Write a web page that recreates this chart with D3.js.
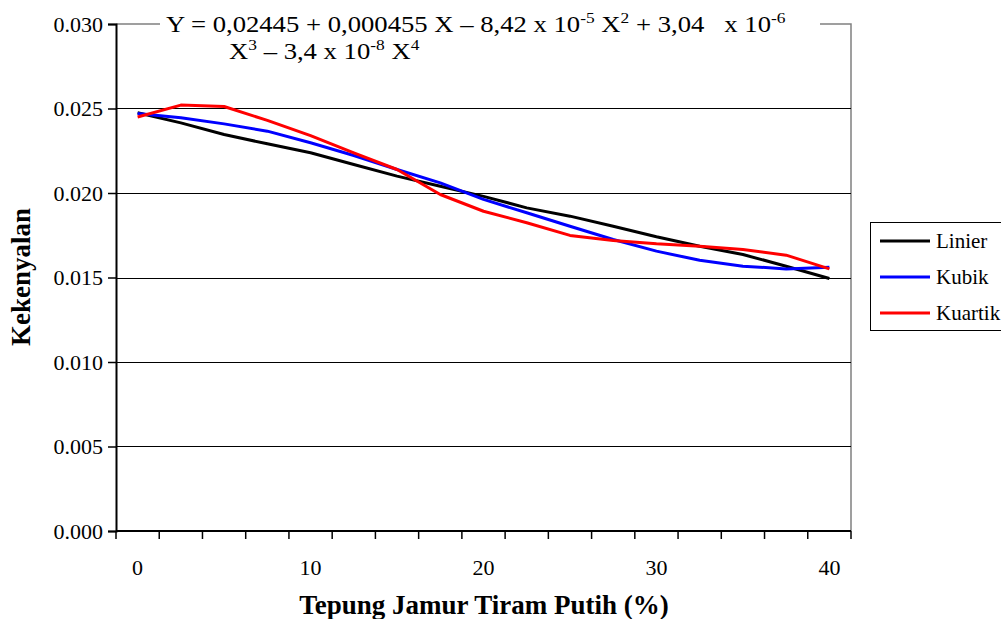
<!DOCTYPE html>
<html>
<head>
<meta charset="utf-8">
<script src="https://cdn.jsdelivr.net/npm/d3@7"></script>
<style>
  body { margin: 0; background: #fff; }
  svg { font-family: "Liberation Serif", "Times New Roman", serif; }
</style>
</head>
<body>
<svg id="chart" width="1001" height="619"></svg>
<script>
// categories on the x axis (% tepung jamur tiram putih)
const categories = [0, 2.5, 5, 7.5, 10, 12.5, 15, 17.5, 20, 22.5, 25, 27.5, 30, 32.5, 35, 37.5, 40];
const xTickLabels = [0, 10, 20, 30, 40];
const yTicks = [0, 0.005, 0.010, 0.015, 0.020, 0.025, 0.030];

// series values
const linier = [0.02475, 0.02415, 0.02346, 0.02291, 0.02238, 0.02169, 0.02100, 0.02040, 0.01980,
  0.01912, 0.01863, 0.01803, 0.01741, 0.01685, 0.01636, 0.01567, 0.01494];
const kubik = [0.02470, 0.02445, 0.02409, 0.02366, 0.02297, 0.02222, 0.02139, 0.02060, 0.01962,
  0.01883, 0.01803, 0.01725, 0.01656, 0.01602, 0.01567, 0.01551, 0.01561];
const kuartik = [0.02450, 0.02520, 0.02512, 0.02430, 0.02340, 0.02238, 0.02139, 0.01991, 0.01892,
  0.01824, 0.01749, 0.01719, 0.01699, 0.01685, 0.01666, 0.01632, 0.01551];

const seriesNames = ["Linier", "Kubik", "Kuartik"];
const seriesColors = ["#000000", "#0000ff", "#ff0000"];

const plot = { left: 116, right: 851, top: 24, bottom: 531 };
const fontSize = 22;

const svg = d3.select("#chart");

const xBand = d3.scaleBand()
  .domain(categories)
  .range([plot.left, plot.right]);

const x = d3.scalePoint()
  .domain(categories)
  .range([plot.left, plot.right])
  .padding(0.5);

const y = d3.scaleLinear()
  .domain([0, 0.030])
  .range([plot.bottom, plot.top]);

// plot border (top and right in gray)
svg.append("path")
  .attr("fill", "none")
  .attr("stroke", "#808080")
  .attr("stroke-width", 1.5)
  .attr("d", `M${plot.left},${y(0.030)}H${plot.right}V${plot.bottom}`);

// gridlines
svg.append("g")
  .selectAll("line")
  .data(yTicks.filter(d => d > 0 && d < 0.030))
  .join("line")
  .attr("x1", plot.left)
  .attr("x2", plot.right)
  .attr("y1", d => Math.round(y(d)) + 0.5)
  .attr("y2", d => Math.round(y(d)) + 0.5)
  .attr("stroke", "#000")
  .attr("stroke-width", 1.2);

// y axis
const yAxis = svg.append("g")
  .attr("transform", `translate(${plot.left},0)`)
  .call(d3.axisLeft(y).tickValues(yTicks).tickFormat(d3.format(".3f")).tickSize(8).tickPadding(5));
yAxis.attr("font-family", "Liberation Serif").attr("font-size", fontSize);
yAxis.select(".domain").attr("stroke-width", 2);
yAxis.selectAll(".tick line").attr("stroke-width", 1.5);
yAxis.selectAll("text").attr("fill", "#000");

// x axis: ticks between categories, labels every 10 %
const boundaries = categories.map(c => xBand(c)).concat([plot.right]);
const xAxis = svg.append("g");
xAxis.append("line")
  .attr("x1", plot.left)
  .attr("x2", plot.right)
  .attr("y1", plot.bottom)
  .attr("y2", plot.bottom)
  .attr("stroke", "#000")
  .attr("stroke-width", 2);
xAxis.selectAll("line.tick")
  .data(boundaries)
  .join("line")
  .attr("class", "tick")
  .attr("x1", d => d)
  .attr("x2", d => d)
  .attr("y1", plot.bottom)
  .attr("y2", plot.bottom + 8)
  .attr("stroke", "#000")
  .attr("stroke-width", 1.5);
xAxis.selectAll("text")
  .data(xTickLabels)
  .join("text")
  .attr("x", d => x(d))
  .attr("y", 575)
  .attr("text-anchor", "middle")
  .attr("font-size", fontSize)
  .text(d => d);

// lines
const line = d3.line()
  .x((d, i) => x(categories[i]))
  .y(d => y(d));

const allSeries = [linier, kubik, kuartik];
svg.append("g")
  .selectAll("path")
  .data(allSeries)
  .join("path")
  .attr("fill", "none")
  .attr("stroke", (d, i) => seriesColors[i])
  .attr("stroke-width", 3)
  .attr("stroke-linejoin", "round")
  .attr("d", line);

// equation box (text slightly widened like the original)
const eqSize = 23, supSize = 15, supShift = 9;
const eq = svg.append("g");
eq.append("rect")
  .attr("x", 160)
  .attr("y", 6)
  .attr("width", 660)
  .attr("height", 64)
  .attr("fill", "#fff");
const eq1 = eq.append("text")
  .attr("transform", "translate(166,32) scale(1.16,1)")
  .attr("font-size", eqSize);
eq1.append("tspan").text("Y = 0,02445 + 0,000455 X \u2013 8,42 x 10");
eq1.append("tspan").attr("dy", -supShift).attr("font-size", supSize).text("-5");
eq1.append("tspan").attr("dy", supShift).text(" X");
eq1.append("tspan").attr("dy", -supShift).attr("font-size", supSize).text("2");
eq1.append("tspan").attr("dy", supShift).text(" + 3,04\u00a0\u00a0\u00a0x 10");
eq1.append("tspan").attr("dy", -supShift).attr("font-size", supSize).text("-6");
const eq2 = eq.append("text")
  .attr("transform", "translate(229,59) scale(1.16,1)")
  .attr("font-size", eqSize);
eq2.append("tspan").text("X");
eq2.append("tspan").attr("dy", -supShift).attr("font-size", supSize).text("3");
eq2.append("tspan").attr("dy", supShift).text(" \u2013 3,4 x 10");
eq2.append("tspan").attr("dy", -supShift).attr("font-size", supSize).text("-8");
eq2.append("tspan").attr("dy", supShift).text(" X");
eq2.append("tspan").attr("dy", -supShift).attr("font-size", supSize).text("4");

// axis titles
svg.append("text")
  .attr("x", 484)
  .attr("y", 614)
  .attr("text-anchor", "middle")
  .attr("font-size", 27)
  .attr("font-weight", "bold")
  .text("Tepung Jamur Tiram Putih (%)");
svg.append("text")
  .attr("transform", "translate(30,277) rotate(-90)")
  .attr("text-anchor", "middle")
  .attr("font-size", 27)
  .attr("font-weight", "bold")
  .text("Kekenyalan");

// legend
const legend = svg.append("g").attr("transform", "translate(870,222)");
legend.append("rect")
  .attr("x", 0.5)
  .attr("y", 0.5)
  .attr("width", 140)
  .attr("height", 108)
  .attr("fill", "#fff")
  .attr("stroke", "#000")
  .attr("stroke-width", 1);
const items = legend.selectAll("g.item")
  .data(seriesNames)
  .join("g")
  .attr("class", "item")
  .attr("transform", (d, i) => `translate(0,${19 + i * 36})`);
items.append("line")
  .attr("x1", 10)
  .attr("x2", 60)
  .attr("stroke", (d, i) => seriesColors[i])
  .attr("stroke-width", 3);
items.append("text")
  .attr("x", 66)
  .attr("y", 7)
  .attr("font-size", 21)
  .text(d => d);
</script>
</body>
</html>
